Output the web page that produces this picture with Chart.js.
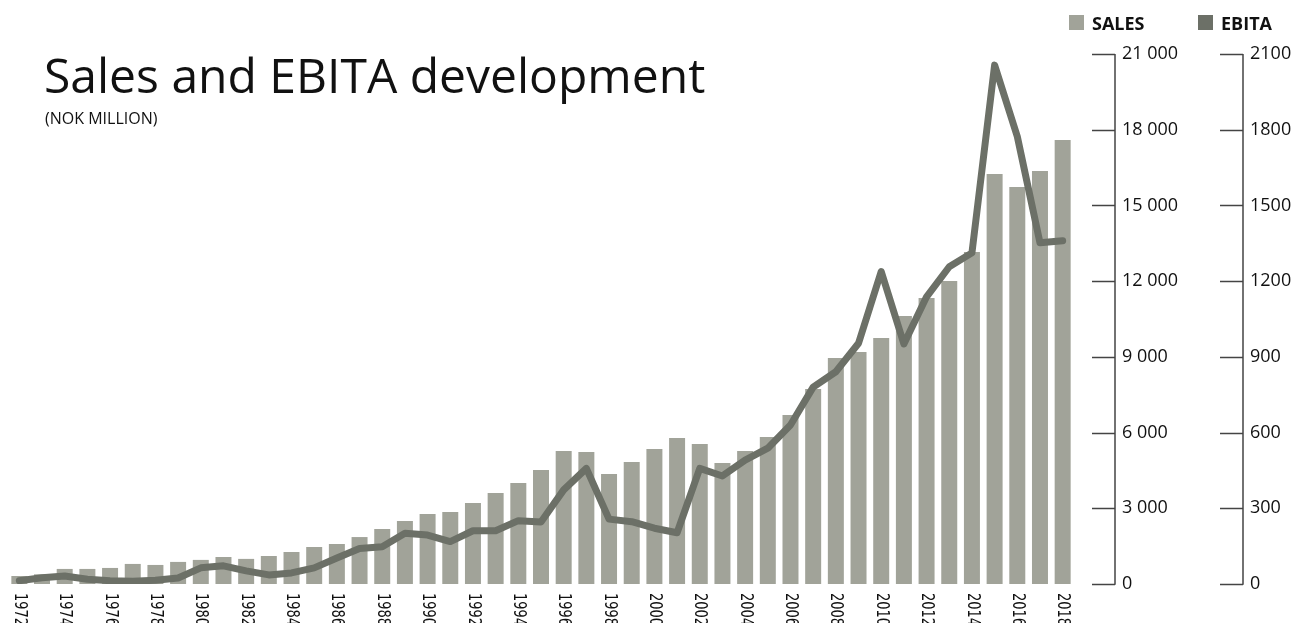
<!DOCTYPE html>
<html>
<head>
<meta charset="utf-8">
<title>Sales and EBITA development</title>
<script src="https://cdn.jsdelivr.net/npm/chart.js@4.4.1/dist/chart.umd.min.js"></script>
<style>
    html, body { margin: 0; padding: 0; background: #fff; }
    #wrap { position: relative; width: 1297px; height: 623px; }
</style>
</head>
<body>
<div id="wrap"><canvas id="salesChart"></canvas></div>
<script>
// data (NOK million)
var years = [
    "1972", "1973", "1974", "1975", "1976", "1977", "1978", "1979", "1980", "1981",
    "1982", "1983", "1984", "1985", "1986", "1987", "1988", "1989", "1990", "1991",
    "1992", "1993", "1994", "1995", "1996", "1997", "1998", "1999", "2000", "2001",
    "2002", "2003", "2004", "2005", "2006", "2007", "2008", "2009", "2010", "2011",
    "2012", "2013", "2014", "2015", "2016", "2017", "2018"
];
var sales = [
    317, 383, 597, 597, 636, 795, 755, 875, 955, 1070,
    995, 1110, 1268, 1466, 1585, 1860, 2180, 2495, 2775, 2855,
    3210, 3605, 4000, 4520, 5270, 5230, 4355, 4830, 5350, 5785,
    5550, 4790, 5270, 5825, 6695, 7725, 8955, 9190, 9745, 10620,
    11335, 12005, 13155, 16245, 15730, 16365, 17590
];
var ebita = [
    13, 25, 32, 19, 13, 11, 15, 24, 64, 72,
    52, 36, 44, 64, 103, 141, 148, 201, 194, 168,
    211, 211, 251, 246, 373, 458, 257, 247, 221, 203,
    458, 428, 491, 538, 630, 780, 841, 954, 1238, 951,
    1138, 1257, 1312, 2056, 1773, 1352, 1360
];
var salesTicks = [0, 3000, 6000, 9000, 12000, 15000, 18000, 21000];
var ebitaTicks = [0, 300, 600, 900, 1200, 1500, 1800, 2100];

var salesColor = "#a1a399";
var ebitaColor = "#6c7067";

function spaced(v) {
    return String(v).replace(/\B(?=(\d{3})+(?!\d))/g, " ");
}

// title, legend, year labels and the bracket-style axes
var decorations = {
    id: "decorations",
    afterDraw: function (chart) {
        var ctx = chart.ctx;
        ctx.save();

        ctx.fillStyle = "#111";
        ctx.textAlign = "left";
        ctx.textBaseline = "alphabetic";
        ctx.font = '400 48px "Open Sans"';
        ctx.fillText("Sales and EBITA development", 44, 93);
        ctx.font = '400 16px "Open Sans"';
        ctx.fillText("(NOK MILLION)", 45, 124);

        // legend
        var items = [
            { text: "SALES", color: salesColor, x: 1069 },
            { text: "EBITA", color: ebitaColor, x: 1198 },
        ];
        ctx.font = '700 18px "Open Sans"';
        items.forEach(function (it) {
            ctx.fillStyle = it.color;
            ctx.fillRect(it.x, 15, 15, 15);
            ctx.fillStyle = "#111";
            ctx.fillText(it.text, it.x + 23, 30);
        });

        // axis brackets: ticks pointing to the chart, line on the right
        ctx.strokeStyle = "#444";
        ctx.lineWidth = 1.5;
        ["sales", "ebita"].forEach(function (id) {
            var scale = chart.scales[id];
            var x0 = scale.left + 18;
            var x1 = scale.left + 41;
            ctx.beginPath();
            scale.ticks.forEach(function (t) {
                var y = Math.round(scale.getPixelForValue(t.value)) + 0.5;
                ctx.moveTo(x0, y);
                ctx.lineTo(x1, y);
            });
            ctx.moveTo(x1, scale.getPixelForValue(scale.max));
            ctx.lineTo(x1, scale.getPixelForValue(scale.min) + 0.75);
            ctx.stroke();
        });

        // year labels, every other year, reading downwards (narrowed a bit)
        var xs = chart.scales.x;
        ctx.fillStyle = "#111";
        ctx.font = '17px "DejaVu Sans Condensed", "Liberation Sans Narrow", sans-serif';
        ctx.textBaseline = "middle";
        years.forEach(function (yr, i) {
            if (i % 2 !== 0) return;
            ctx.save();
            ctx.translate(xs.getPixelForValue(i), chart.chartArea.bottom + 9);
            ctx.rotate(Math.PI / 2);
            ctx.scale(0.85, 1);
            ctx.fillText(yr, 0, 0);
            ctx.restore();
        });

        ctx.restore();
    },
};

var ctx = document.getElementById("salesChart").getContext("2d");
var salesChart = new Chart(ctx, {
    data: {
        labels: years,
        datasets: [
            {
                type: "line",
                label: "EBITA",
                data: ebita,
                yAxisID: "ebita",
                borderColor: ebitaColor,
                backgroundColor: ebitaColor,
                borderWidth: 7,
                borderJoinStyle: "round",
                borderCapStyle: "round",
                pointRadius: 0,
                tension: 0,
                order: 1,
            },
            {
                type: "bar",
                label: "SALES",
                data: sales,
                yAxisID: "sales",
                backgroundColor: salesColor,
                barPercentage: 0.705,
                categoryPercentage: 1,
                order: 2,
            },
        ],
    },
    options: {
        responsive: true,
        maintainAspectRatio: false,
        animation: false,
        layout: {
            padding: { top: 54, bottom: 39, left: 8, right: 0 },
        },
        plugins: {
            legend: { display: false },
            tooltip: { enabled: false },
        },
        scales: {
            x: {
                type: "category",
                offset: true,
                grid: { display: false, drawTicks: false },
                border: { display: false },
                ticks: { display: false },
            },
            sales: {
                type: "linear",
                position: "right",
                weight: 0,
                min: 0,
                max: 21000,
                afterBuildTicks: function (scale) {
                    scale.ticks = salesTicks.map(function (v) { return { value: v }; });
                },
                afterFit: function (scale) { scale.width = 128; },
                // grid hidden: the bracket is drawn by the plugin, tickLength only spaces the labels
                grid: { display: false, drawTicks: true, tickLength: 41 },
                border: { display: false },
                ticks: {
                    padding: 7,
                    color: "#111",
                    font: { family: "Open Sans", size: 18 },
                    callback: function (v) { return spaced(v); },
                },
            },
            ebita: {
                type: "linear",
                position: "right",
                weight: 1,
                min: 0,
                max: 2100,
                afterBuildTicks: function (scale) {
                    scale.ticks = ebitaTicks.map(function (v) { return { value: v }; });
                },
                afterFit: function (scale) { scale.width = 95; },
                grid: { display: false, drawTicks: true, tickLength: 41 },
                border: { display: false },
                ticks: {
                    padding: 7,
                    color: "#111",
                    font: { family: "Open Sans", size: 18 },
                    callback: function (v) { return String(v); },
                },
            },
        },
    },
    plugins: [decorations],
});
</script>
</body>
</html>
